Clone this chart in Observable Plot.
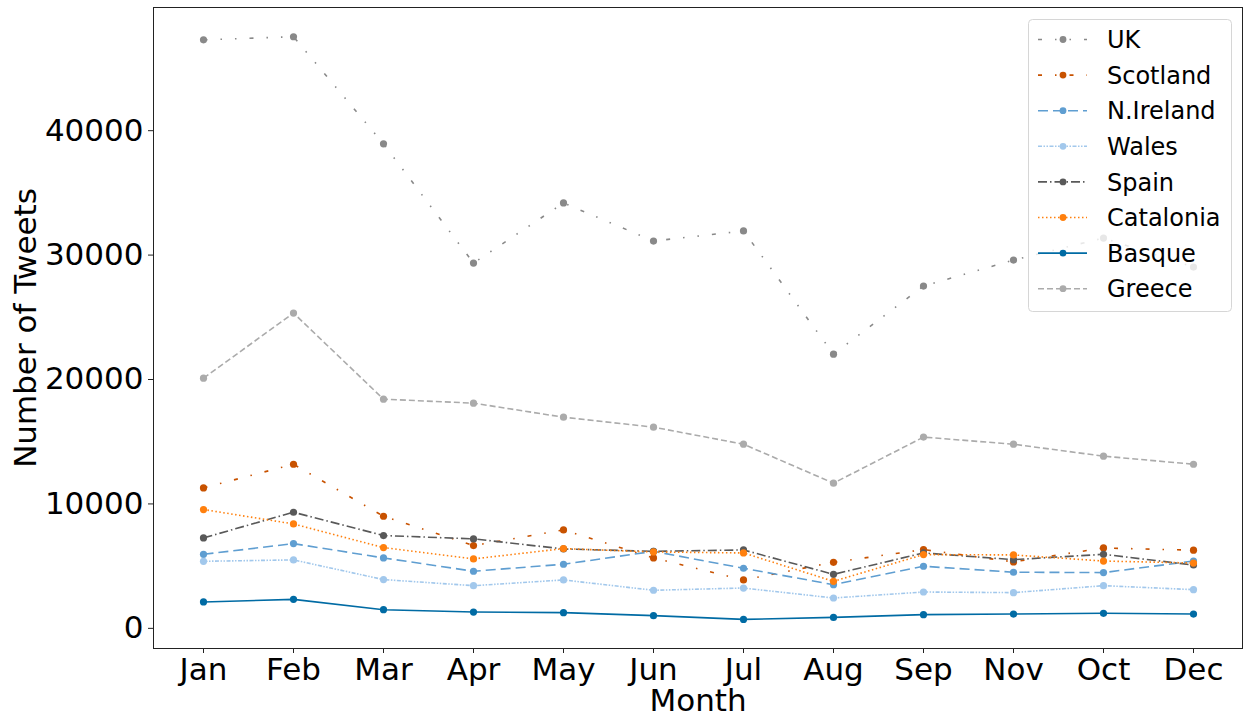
<!DOCTYPE html>
<html>
<head>
<meta charset="utf-8">
<script src="https://cdn.jsdelivr.net/npm/d3@7"></script>
<script src="https://cdn.jsdelivr.net/npm/@observablehq/plot@0.6"></script>
<style>
  html, body { margin: 0; padding: 0; background: #fff; }
  #chart { width: 1244px; height: 718px; }
  svg { font-family: "DejaVu Sans", sans-serif; }
</style>
</head>
<body>
<div id="chart"></div>
<script>
const months = ["Jan","Feb","Mar","Apr","May","Jun","Jul","Aug","Sep","Nov","Oct","Dec"];
const yTicks = [0, 10000, 20000, 30000, 40000];

const seriesNames = ["UK","Scotland","N.Ireland","Wales","Spain","Catalonia","Basque","Greece"];
const uk        = [47300, 47550, 38940, 29360, 34190, 31130, 31940, 22040, 27510, 29600, 31370, 29040];
const scotland  = [11290, 13190, 9010, 6650, 7910, 5660, 3890, 5310, 6330, 5340, 6460, 6280];
const nireland  = [5950, 6810, 5660, 4590, 5150, 6190, 4830, 3510, 4990, 4510, 4480, 5410];
const wales     = [5390, 5500, 3920, 3430, 3890, 3060, 3240, 2440, 2920, 2870, 3430, 3110];
const spain     = [7270, 9330, 7460, 7190, 6380, 6190, 6300, 4340, 6060, 5520, 5950, 5090];
const catalonia = [9550, 8390, 6490, 5580, 6410, 6140, 6060, 3780, 5930, 5900, 5410, 5250];
const basque    = [2120, 2330, 1500, 1310, 1260, 1020, 720, 880, 1100, 1150, 1210, 1150];
const greece    = [20110, 25340, 18420, 18100, 16970, 16170, 14800, 11670, 15370, 14800, 13840, 13190];

const seriesValues = [uk, scotland, nireland, wales, spain, catalonia, basque, greece];
const colors = ["#898989","#C85200","#5F9ED1","#A2C8EC","#595959","#FF800E","#006BA4","#ABABAB"];
const dashes = ["4,13,1.5,13,1.5,13", "4,13,1.5,13", "10,5", "4,1.5,1.5,1.5,1.5,1.5", "9,3,1.5,3", "1.5,2.5", null, "6,3"];

const rows = [];
seriesNames.forEach((name, i) => {
  months.forEach((m, j) => rows.push({series: name, month: m, value: seriesValues[i][j]}));
});

const marks = [];
seriesNames.forEach((name, i) => {
  const d = rows.filter(r => r.series === name);
  marks.push(Plot.line(d, {x: "month", y: "value", stroke: colors[i], strokeWidth: 1.6,
    strokeDasharray: dashes[i] || undefined, strokeLinecap: "butt"}));
  marks.push(Plot.dot(d, {x: "month", y: "value", fill: colors[i], r: 3.6, stroke: "none"}));
});

const chart = Plot.plot({
  width: 1244,
  height: 718,
  marginLeft: 153,
  marginRight: 2,
  marginTop: 7,
  marginBottom: 70,
  style: {fontFamily: "DejaVu Sans, sans-serif", fontSize: "31px", color: "#000", background: "#fff"},
  x: {type: "point", domain: months, padding: 0.54, label: null},
  y: {domain: [-1620, 49900], label: null},
  marks: [
    Plot.axisX({ticks: months, tickSize: 5, tickPadding: 4, fontSize: 31, label: null, stroke: "#222"}),
    Plot.axisY({ticks: yTicks, tickSize: 5, tickPadding: 5, fontSize: 31, label: null, tickFormat: d => String(d), stroke: "#222"}),
    ...marks,
    Plot.frame({stroke: "#222", strokeWidth: 1}),
    Plot.text(["Number of Tweets"], {frameAnchor: "left", dx: -127, rotate: -90, textAnchor: "middle", lineAnchor: "middle", fontSize: 31, fill: "#000", text: d => d}),
    Plot.text(["Month"], {frameAnchor: "bottom", dy: 53, textAnchor: "middle", lineAnchor: "middle", fontSize: 31, fill: "#000", text: d => d})
  ]
});

document.getElementById("chart").appendChild(chart);

// Legend drawn inside the plot area
const svg = d3.select(chart.tagName.toLowerCase() === "svg" ? chart : chart.querySelector("svg"));
const lg = svg.append("g").attr("class", "legend").attr("text-anchor", "start");
const lx = 1028, ly = 19, lw = 203, lh = 292;
lg.append("rect").attr("x", lx + 0.5).attr("y", ly + 0.5).attr("width", lw).attr("height", lh)
  .attr("rx", 4).attr("fill", "#fff").attr("fill-opacity", 0.8).attr("stroke", "#d6d6d6").attr("stroke-width", 1);
seriesNames.forEach((name, i) => {
  const cy = 39.5 + i * 35.6;
  lg.append("line").attr("x1", 1038).attr("x2", 1087).attr("y1", cy).attr("y2", cy)
    .attr("stroke", colors[i]).attr("stroke-width", 1.6)
    .attr("stroke-dasharray", dashes[i] || null);
  lg.append("circle").attr("cx", 1063).attr("cy", cy).attr("r", 3.4).attr("fill", colors[i]);
  lg.append("text").attr("x", 1107).attr("y", cy).attr("dy", "0.36em").attr("text-anchor", "start")
    .attr("font-size", 24).attr("fill", "#000").attr("font-family", "DejaVu Sans, sans-serif").text(name);
});
</script>
</body>
</html>
